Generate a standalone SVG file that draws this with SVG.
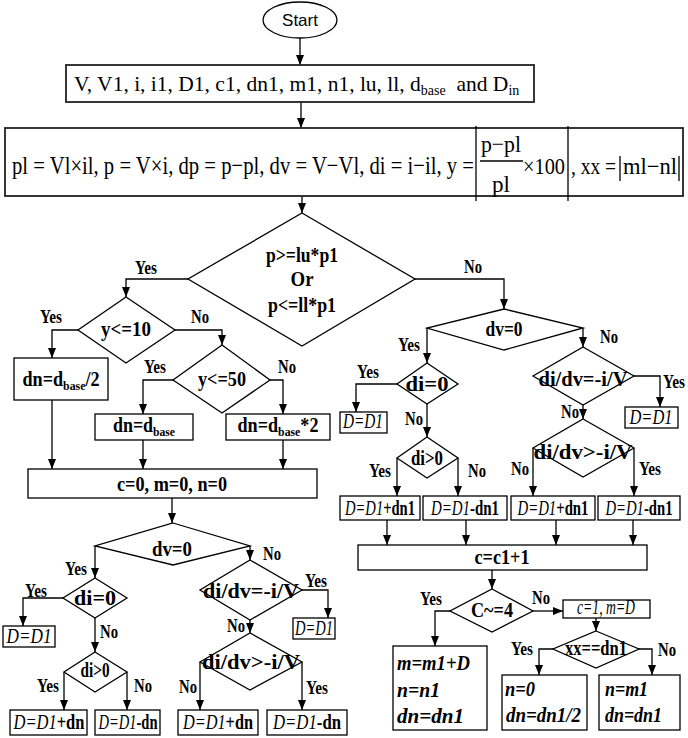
<svg xmlns="http://www.w3.org/2000/svg" width="688" height="738" viewBox="0 0 688 738">
<defs>
<marker id="ah" viewBox="0 0 10 8" refX="10" refY="4" markerWidth="10" markerHeight="8" markerUnits="userSpaceOnUse" orient="auto">
<path d="M0,0 L10,4 L0,8 z" fill="#000"/>
</marker>
</defs>
<style>
.ln{fill:none;stroke:#000;stroke-width:1.3}
.ar{marker-end:url(#ah)}
.bx{fill:#fff;stroke:#000;stroke-width:1.3}
.bx2{fill:#fff;stroke:#222;stroke-width:1.8}
.t{font-family:"Liberation Serif","Times New Roman",serif;font-weight:bold;font-size:20px;text-anchor:middle;fill:#000}
.r{font-family:"Liberation Serif","Times New Roman",serif;font-weight:normal;fill:#000}
.lb{font-family:"Liberation Serif","Times New Roman",serif;font-weight:bold;font-size:19px;text-anchor:middle;fill:#000}
.it{font-style:italic;font-weight:normal}
.bi{font-style:italic;font-weight:bold}
.st{text-anchor:start}
</style>
<rect width="688" height="738" fill="#fff"/>

<g id="connectors">
<path class="ln ar" d="M300,38 V65"/>
<path class="ln ar" d="M301,102 V128"/>
<path class="ln ar" d="M302,196 V213"/>
<path class="ln ar" d="M188,279 H126 V297"/>
<path class="ln ar" d="M78,330 H52 V358"/>
<path class="ln ar" d="M175,330 H222 V345"/>
<path class="ln ar" d="M173,380 H143 V414"/>
<path class="ln ar" d="M270,380 H283 V414"/>
<path class="ln ar" d="M52,400 V469"/>
<path class="ln ar" d="M143,440 V469"/>
<path class="ln ar" d="M283,440 V469"/>
<path class="ln ar" d="M172,498 V523"/>
<path class="ln ar" d="M95,546 V578"/>
<path class="ln ar" d="M250,546 V560"/>
<path class="ln ar" d="M63,598 H23 V626"/>
<path class="ln ar" d="M95,618 V652"/>
<path class="ln ar" d="M64,672 V710"/>
<path class="ln ar" d="M127,672 V710"/>
<path class="ln ar" d="M302,590 H328 V618"/>
<path class="ln ar" d="M250,620 V633"/>
<path class="ln ar" d="M200,662 V710"/>
<path class="ln ar" d="M302,662 V710"/>
<path class="ln ar" d="M415,279 H504 V309"/>
<path class="ln ar" d="M427,328 V363"/>
<path class="ln ar" d="M583,328 V347"/>
<path class="ln ar" d="M397,384 H356 V412"/>
<path class="ln ar" d="M427,404 V437"/>
<path class="ln ar" d="M397,458 V496"/>
<path class="ln ar" d="M458,458 V496"/>
<path class="ln ar" d="M634,376 H660 V407"/>
<path class="ln ar" d="M583,405 V419"/>
<path class="ln ar" d="M533,448 V496"/>
<path class="ln ar" d="M634,448 V496"/>
<path class="ln ar" d="M387,520 V545"/>
<path class="ln ar" d="M466,520 V545"/>
<path class="ln ar" d="M556,520 V545"/>
<path class="ln ar" d="M633,520 V545"/>
<path class="ln ar" d="M492,570 V589"/>
<path class="ln ar" d="M450,611 H435 V646"/>
<path class="ln ar" d="M533,611 H563"/>
<path class="ln ar" d="M596,618 V631"/>
<path class="ln ar" d="M553,649 H539 V675"/>
<path class="ln ar" d="M639,649 H652 V675"/>
</g>

<g id="edge-labels">
<text class="lb" x="146" y="274" textLength="22" lengthAdjust="spacingAndGlyphs">Yes</text>
<text class="lb" x="473" y="273" textLength="18" lengthAdjust="spacingAndGlyphs">No</text>
<text class="lb" x="51" y="323" textLength="22" lengthAdjust="spacingAndGlyphs">Yes</text>
<text class="lb" x="200" y="323" textLength="18" lengthAdjust="spacingAndGlyphs">No</text>
<text class="lb" x="155" y="373" textLength="22" lengthAdjust="spacingAndGlyphs">Yes</text>
<text class="lb" x="287" y="373" textLength="18" lengthAdjust="spacingAndGlyphs">No</text>
<text class="lb" x="409" y="351" textLength="22" lengthAdjust="spacingAndGlyphs">Yes</text>
<text class="lb" x="609" y="343" textLength="18" lengthAdjust="spacingAndGlyphs">No</text>
<text class="lb" x="368" y="378" textLength="22" lengthAdjust="spacingAndGlyphs">Yes</text>
<text class="lb" x="414" y="425" textLength="18" lengthAdjust="spacingAndGlyphs">No</text>
<text class="lb" x="380" y="477" textLength="22" lengthAdjust="spacingAndGlyphs">Yes</text>
<text class="lb" x="477" y="477" textLength="18" lengthAdjust="spacingAndGlyphs">No</text>
<text class="lb" x="674" y="388" textLength="22" lengthAdjust="spacingAndGlyphs">Yes</text>
<text class="lb" x="570" y="418" textLength="18" lengthAdjust="spacingAndGlyphs">No</text>
<text class="lb" x="520" y="475" textLength="18" lengthAdjust="spacingAndGlyphs">No</text>
<text class="lb" x="650" y="475" textLength="22" lengthAdjust="spacingAndGlyphs">Yes</text>
<text class="lb" x="76" y="575" textLength="22" lengthAdjust="spacingAndGlyphs">Yes</text>
<text class="lb" x="272" y="560" textLength="18" lengthAdjust="spacingAndGlyphs">No</text>
<text class="lb" x="36" y="597" textLength="22" lengthAdjust="spacingAndGlyphs">Yes</text>
<text class="lb" x="109" y="638" textLength="18" lengthAdjust="spacingAndGlyphs">No</text>
<text class="lb" x="48" y="692" textLength="22" lengthAdjust="spacingAndGlyphs">Yes</text>
<text class="lb" x="143" y="692" textLength="18" lengthAdjust="spacingAndGlyphs">No</text>
<text class="lb" x="316" y="587" textLength="22" lengthAdjust="spacingAndGlyphs">Yes</text>
<text class="lb" x="236" y="632" textLength="18" lengthAdjust="spacingAndGlyphs">No</text>
<text class="lb" x="188" y="693" textLength="18" lengthAdjust="spacingAndGlyphs">No</text>
<text class="lb" x="317" y="694" textLength="22" lengthAdjust="spacingAndGlyphs">Yes</text>
<text class="lb" x="431" y="605" textLength="22" lengthAdjust="spacingAndGlyphs">Yes</text>
<text class="lb" x="541" y="604" textLength="18" lengthAdjust="spacingAndGlyphs">No</text>
<text class="lb" x="522" y="655" textLength="22" lengthAdjust="spacingAndGlyphs">Yes</text>
<text class="lb" x="667" y="656" textLength="18" lengthAdjust="spacingAndGlyphs">No</text>
</g>

<g id="start">
<ellipse class="bx" cx="300" cy="20" rx="37" ry="18"/>
<text x="300" y="26" font-family="'Liberation Sans',Arial,sans-serif" font-size="17" text-anchor="middle">Start</text>
</g>

<g id="inputs">
<rect class="bx2" x="66" y="65" width="468" height="37"/>
<text class="r" x="74" y="91" font-size="21.5">V, V1, i, i1, D1, c1, dn1, m1, n1, lu, ll, d<tspan font-size="14" dy="4">base</tspan><tspan dy="-4" xml:space="preserve">  and D</tspan><tspan font-size="14" dy="4">in</tspan></text>
</g>

<g id="formulas">
<rect class="bx2" x="5" y="128" width="678" height="68"/>
<text class="r" x="12" y="174" font-size="26" textLength="462" lengthAdjust="spacingAndGlyphs">pl = Vl×il, p = V×i, dp = p−pl, dv = V−Vl, di = i−il,  y =</text>
<line class="ln" x1="476" y1="126" x2="476" y2="201"/>
<text class="r" x="501" y="152" font-size="24" text-anchor="middle" textLength="40" lengthAdjust="spacingAndGlyphs">p−pl</text>
<line class="ln" x1="480" y1="161" x2="523" y2="161"/>
<text class="r" x="501" y="192" font-size="24" text-anchor="middle" textLength="18" lengthAdjust="spacingAndGlyphs">pl</text>
<text class="r" x="523" y="174" font-size="23" textLength="42" lengthAdjust="spacingAndGlyphs">×100</text>
<line class="ln" x1="568" y1="126" x2="568" y2="201"/>
<text class="r" x="571" y="174" font-size="23" textLength="45" lengthAdjust="spacingAndGlyphs">, xx =</text>
<line class="ln" x1="620" y1="156" x2="620" y2="181"/>
<text class="r" x="623" y="174" font-size="23" textLength="54" lengthAdjust="spacingAndGlyphs">ml−nl</text>
<line class="ln" x1="679" y1="156" x2="679" y2="181"/>
</g>

<g id="d-power">
<polygon class="bx" points="302,213 415,279 302,346 188,279"/>
<text class="t" x="302" y="262" textLength="72" lengthAdjust="spacingAndGlyphs">p&gt;=lu*p1</text>
<text class="t" x="302" y="286" textLength="23" lengthAdjust="spacingAndGlyphs">Or</text>
<text class="t" x="302" y="312" textLength="68" lengthAdjust="spacingAndGlyphs">p&lt;=ll*p1</text>
</g>

<g id="d-y10">
<polygon class="bx" points="126,297 175,330 126,363 78,330"/>
<text class="t" x="126" y="336" textLength="50" lengthAdjust="spacingAndGlyphs">y&lt;=10</text>
</g>
<g id="d-y50">
<polygon class="bx" points="222,345 270,380 222,413 173,380"/>
<text class="t" x="222" y="386" textLength="48" lengthAdjust="spacingAndGlyphs">y&lt;=50</text>
</g>
<g id="b-dn-half">
<rect class="bx" x="14" y="358" width="94" height="42"/>
<text class="t" x="61" y="386" textLength="77" lengthAdjust="spacingAndGlyphs">dn=d<tspan font-size="13" dy="4">base</tspan><tspan dy="-4">/2</tspan></text>
</g>
<g id="b-dn-base">
<rect class="bx" x="95" y="414" width="98" height="26"/>
<text class="t" x="144" y="432" textLength="62" lengthAdjust="spacingAndGlyphs">dn=d<tspan font-size="13" dy="4">base</tspan></text>
</g>
<g id="b-dn-double">
<rect class="bx" x="226" y="414" width="104" height="26"/>
<text class="t" x="278" y="432" textLength="81" lengthAdjust="spacingAndGlyphs">dn=d<tspan font-size="13" dy="4">base</tspan><tspan dy="-4">*2</tspan></text>
</g>
<g id="b-init">
<rect class="bx" x="28" y="469" width="289" height="29"/>
<text class="t" x="172" y="491" textLength="110" lengthAdjust="spacingAndGlyphs">c=0, m=0, n=0</text>
</g>

<g id="d-dv-left">
<polygon class="bx" points="173,523 250,546 173,565 95,546"/>
<text class="t" x="172" y="556" textLength="40" lengthAdjust="spacingAndGlyphs">dv=0</text>
</g>
<g id="d-di0-left">
<polygon class="bx" points="95,578 127,598 95,618 63,598"/>
<text class="t" x="95" y="605" textLength="42" lengthAdjust="spacingAndGlyphs">di=0</text>
</g>
<g id="b-keep-left">
<rect class="bx" x="3" y="626" width="52" height="21"/>
<text class="t it" x="29" y="643" textLength="45" lengthAdjust="spacingAndGlyphs">D=D1</text>
</g>
<g id="d-dipos-left">
<polygon class="bx" points="95,652 127,672 95,692 64,672"/>
<text class="t" x="95" y="677" font-size="17" textLength="29" lengthAdjust="spacingAndGlyphs">di&gt;0</text>
</g>
<g id="d-didv-eq-left">
<polygon class="bx" points="250,560 302,590 250,620 200,590"/>
<text class="t" x="251" y="598" textLength="96" lengthAdjust="spacingAndGlyphs">di/dv=-i/V</text>
</g>
<g id="b-keep-left2">
<rect class="bx" x="293" y="618" width="42" height="21"/>
<text class="t it" x="314" y="635" font-size="19" textLength="38" lengthAdjust="spacingAndGlyphs">D=D1</text>
</g>
<g id="d-didv-gt-left">
<polygon class="bx" points="250,633 302,662 250,690 200,662"/>
<text class="t" x="251" y="669" textLength="98" lengthAdjust="spacingAndGlyphs">di/dv&gt;-i/V</text>
</g>
<g id="b-l1">
<rect class="bx" x="10" y="710" width="77" height="25"/>
<text class="t" x="49" y="729" textLength="71" lengthAdjust="spacingAndGlyphs"><tspan class="it">D=D1</tspan>+dn</text>
</g>
<g id="b-l2">
<rect class="bx" x="95" y="710" width="65" height="25"/>
<text class="t" x="128" y="729" textLength="59" lengthAdjust="spacingAndGlyphs"><tspan class="it">D=D1</tspan>-dn</text>
</g>
<g id="b-l3">
<rect class="bx" x="178" y="710" width="80" height="25"/>
<text class="t" x="218" y="729" textLength="70" lengthAdjust="spacingAndGlyphs"><tspan class="it">D=D1</tspan>+dn</text>
</g>
<g id="b-l4">
<rect class="bx" x="267" y="710" width="80" height="25"/>
<text class="t" x="307" y="729" textLength="68" lengthAdjust="spacingAndGlyphs"><tspan class="it">D=D1</tspan>-dn</text>
</g>

<g id="d-dv-right">
<polygon class="bx" points="504,309 583,328 504,350 427,328"/>
<text class="t" x="504" y="336" textLength="37" lengthAdjust="spacingAndGlyphs">dv=0</text>
</g>
<g id="d-di0-right">
<polygon class="bx" points="427,363 458,384 427,404 397,384"/>
<text class="t" x="427" y="391" textLength="43" lengthAdjust="spacingAndGlyphs">di=0</text>
</g>
<g id="b-keep-right">
<rect class="bx" x="340" y="412" width="47" height="21"/>
<text class="t it" x="363" y="428" font-size="19" textLength="40" lengthAdjust="spacingAndGlyphs">D=D1</text>
</g>
<g id="d-dipos-right">
<polygon class="bx" points="427,437 458,458 427,478 397,458"/>
<text class="t" x="427" y="465" font-size="18" textLength="32" lengthAdjust="spacingAndGlyphs">di&gt;0</text>
</g>
<g id="d-didv-eq-right">
<polygon class="bx" points="583,347 634,376 583,405 533,376"/>
<text class="t" x="583" y="386" textLength="89" lengthAdjust="spacingAndGlyphs">di/dv=-i/V</text>
</g>
<g id="b-keep-right2">
<rect class="bx" x="625" y="407" width="53" height="21"/>
<text class="t it" x="651" y="424" font-size="19" textLength="43" lengthAdjust="spacingAndGlyphs">D=D1</text>
</g>
<g id="d-didv-gt-right">
<polygon class="bx" points="583,419 634,448 583,477 533,448"/>
<text class="t" x="583" y="459" textLength="99" lengthAdjust="spacingAndGlyphs">di/dv&gt;-i/V</text>
</g>
<g id="b-r1">
<rect class="bx" x="340" y="496" width="80" height="24"/>
<text class="t" x="380" y="515" textLength="70" lengthAdjust="spacingAndGlyphs"><tspan class="it">D=D1</tspan>+dn1</text>
</g>
<g id="b-r2">
<rect class="bx" x="423" y="496" width="84" height="24"/>
<text class="t" x="465" y="515" textLength="68" lengthAdjust="spacingAndGlyphs"><tspan class="it">D=D1</tspan>-dn1</text>
</g>
<g id="b-r3">
<rect class="bx" x="511" y="496" width="84" height="24"/>
<text class="t" x="553" y="515" textLength="71" lengthAdjust="spacingAndGlyphs"><tspan class="it">D=D1</tspan>+dn1</text>
</g>
<g id="b-r4">
<rect class="bx" x="598" y="496" width="82" height="24"/>
<text class="t" x="639" y="515" textLength="67" lengthAdjust="spacingAndGlyphs"><tspan class="it">D=D1</tspan>-dn1</text>
</g>
<g id="b-count">
<rect class="bx" x="358" y="545" width="289" height="25"/>
<text class="t" x="502" y="564" textLength="55" lengthAdjust="spacingAndGlyphs">c=c1+1</text>
</g>
<g id="d-c4">
<polygon class="bx" points="492,589 533,611 492,632 450,611"/>
<text class="t" x="492" y="617" textLength="42" lengthAdjust="spacingAndGlyphs">C~=4</text>
</g>
<g id="b-reset">
<rect class="bx" x="563" y="600" width="87" height="18"/>
<text class="t it" x="606" y="614" font-size="16" textLength="58" lengthAdjust="spacingAndGlyphs">c=1, m=D</text>
</g>
<g id="d-xx">
<polygon class="bx" points="596,631 639,649 596,668 553,649"/>
<text class="t" x="596" y="655" font-size="16" textLength="62" lengthAdjust="spacingAndGlyphs">xx==dn1</text>
</g>
<g id="b-accum">
<rect class="bx" x="393" y="646" width="94" height="84"/>
<text class="t bi st" x="397" y="670" textLength="73" lengthAdjust="spacingAndGlyphs">m=m1+D</text>
<text class="t bi st" x="397" y="697" textLength="43" lengthAdjust="spacingAndGlyphs">n=n1</text>
<text class="t bi st" x="397" y="723" textLength="67" lengthAdjust="spacingAndGlyphs">dn=dn1</text>
</g>
<g id="b-halve">
<rect class="bx" x="502" y="675" width="85" height="55"/>
<text class="t bi st" x="505" y="696" textLength="30" lengthAdjust="spacingAndGlyphs">n=0</text>
<text class="t bi st" x="506" y="722" textLength="75" lengthAdjust="spacingAndGlyphs">dn=dn1/2</text>
</g>
<g id="b-keep">
<rect class="bx" x="599" y="675" width="81" height="55"/>
<text class="t bi st" x="605" y="696" textLength="43" lengthAdjust="spacingAndGlyphs">n=m1</text>
<text class="t bi st" x="605" y="722" textLength="57" lengthAdjust="spacingAndGlyphs">dn=dn1</text>
</g>
</svg>
